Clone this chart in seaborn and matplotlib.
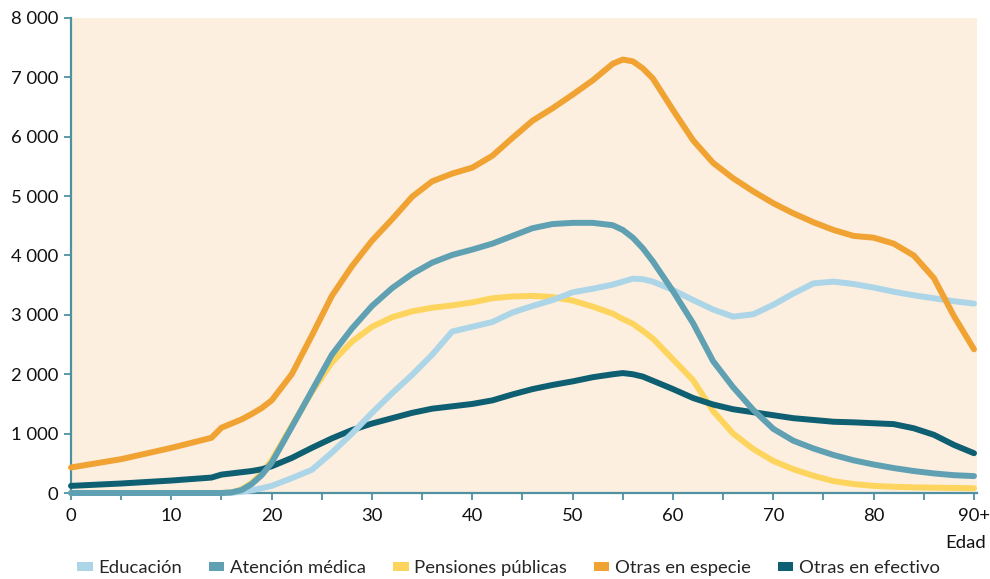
import matplotlib
matplotlib.use("Agg")
import matplotlib.pyplot as plt
import seaborn as sns
import pandas as pd
from matplotlib.patches import Patch

# Age grid (years) shared by all series
ages = [0, 5, 10, 14, 15, 16, 17, 18, 19, 20, 22, 24, 26, 28, 30, 32, 34, 36, 38, 40,
        42, 44, 46, 48, 50, 52, 54, 55, 56, 57, 58, 60, 62, 64, 66, 68, 70, 72, 74,
        76, 78, 80, 82, 84, 86, 88, 90]

educacion = [0, 0, 0, 0, 0, 5, 20, 45, 80, 120, 250, 390, 680, 1000, 1350, 1680, 1990,
             2330, 2720, 2800, 2880, 3040, 3150, 3250, 3380, 3440, 3510, 3560, 3610, 3600,
             3560, 3420, 3250, 3090, 2970, 3010, 3170, 3360, 3530, 3560, 3520, 3460, 3390,
             3330, 3280, 3230, 3190]

atencion_medica = [0, 0, 0, 0, 0, 10, 50, 150, 300, 510, 1110, 1720, 2330, 2770, 3150,
                   3450, 3690, 3880, 4010, 4100, 4200, 4330, 4460, 4530, 4550, 4550, 4510,
                   4430, 4300, 4120, 3900, 3400, 2860, 2220, 1780, 1400, 1080, 880, 750,
                   640, 550, 480, 420, 370, 330, 300, 285]

pensiones = [0, 0, 0, 0, 0, 10, 60, 170, 330, 550, 1130, 1700, 2200, 2550, 2800, 2960,
             3060, 3120, 3160, 3210, 3280, 3310, 3320, 3300, 3240, 3140, 3020, 2930, 2850,
             2730, 2600, 2250, 1900, 1380, 1000, 740, 540, 400, 290, 200, 150, 120, 105,
             95, 90, 85, 80]

otras_especie = [430, 570, 760, 930, 1100, 1170, 1240, 1330, 1430, 1560, 2000, 2650, 3320,
                 3820, 4250, 4610, 4990, 5250, 5380, 5480, 5680, 5980, 6270, 6480, 6710,
                 6950, 7230, 7300, 7270, 7150, 6980, 6450, 5940, 5560, 5300, 5080, 4880,
                 4710, 4560, 4430, 4330, 4300, 4200, 4000, 3620, 2980, 2420]

otras_efectivo = [120, 160, 210, 260, 310, 330, 350, 370, 400, 450, 590, 760, 920, 1060,
                  1170, 1260, 1350, 1420, 1460, 1500, 1560, 1660, 1750, 1820, 1880, 1950,
                  2000, 2020, 2000, 1960, 1890, 1750, 1600, 1490, 1410, 1360, 1310, 1260,
                  1230, 1200, 1190, 1175, 1160, 1090, 980, 810, 670]

series = ["Educación", "Atención médica", "Pensiones públicas",
          "Otras en especie", "Otras en efectivo"]
colors = ["#acd5e8", "#5fa1b3", "#fdd55e", "#f0a332", "#0e5f71"]
layer = [3, 4, 1, 5, 2]

x_ticks = list(range(0, 91, 5))
x_labels = [("90+" if t == 90 else str(t)) if t % 10 == 0 else "" for t in x_ticks]
y_ticks = list(range(0, 8001, 1000))
y_labels = [f"{t:,}".replace(",", " ") for t in y_ticks]

wide = pd.DataFrame({"Edad": ages, series[0]: educacion, series[1]: atencion_medica,
                     series[2]: pensiones, series[3]: otras_especie,
                     series[4]: otras_efectivo})
long = wide.melt(id_vars="Edad", var_name="serie", value_name="valor")

sns.set_style("ticks")
plt.rcParams["font.family"] = ["Lato", "DejaVu Sans"]

fig = plt.figure(figsize=(9.9, 5.79), dpi=100)
ax = fig.add_axes([71 / 990, 1 - 493 / 579, (977 - 71) / 990, (493 - 18) / 579])

sns.lineplot(data=long, x="Edad", y="valor", hue="serie", hue_order=series,
             palette=colors, linewidth=4.3, legend=False, ax=ax)

for line, z in zip(ax.lines, layer):
    line.set_clip_on(False)
    line.set_solid_capstyle("round")
    line.set_solid_joinstyle("round")
    line.set_zorder(2 + z * 0.1)

spine_color = "#4f91a2"
ax.set_facecolor("#fdefdf")
ax.set_xlim(0, 90.3)
ax.set_ylim(0, 8000)
for side in ("top", "right"):
    ax.spines[side].set_visible(False)
for side in ("left", "bottom"):
    ax.spines[side].set_color(spine_color)
    ax.spines[side].set_linewidth(1.6)
    ax.spines[side].set_zorder(1.5)

ax.set_xticks(x_ticks)
ax.set_xticklabels(x_labels)
ax.set_yticks(y_ticks)
ax.set_yticklabels(y_labels)
ax.tick_params(axis="both", direction="out", length=5, width=1.3, color=spine_color,
               labelsize=13.3, labelcolor="#111111")
ax.tick_params(axis="x", pad=6)
ax.tick_params(axis="y", pad=4)
ax.set_xlabel("")
ax.set_ylabel("")

fig.text(986 / 990, 1 - 543 / 579, "Edad", ha="right", va="center", fontsize=13.3,
         color="#111111")

handles = [Patch(facecolor=c, edgecolor="none", label=s) for s, c in zip(series, colors)]
fig.legend(handles=handles, loc="center left", bbox_to_anchor=(77 / 990, 1 - 568 / 579),
           ncol=5, frameon=False, fontsize=13.3, handlelength=0.85, handleheight=0.4,
           handletextpad=0.3, columnspacing=1.45, borderaxespad=0, borderpad=0)

fig.savefig("out.png", dpi=100)
